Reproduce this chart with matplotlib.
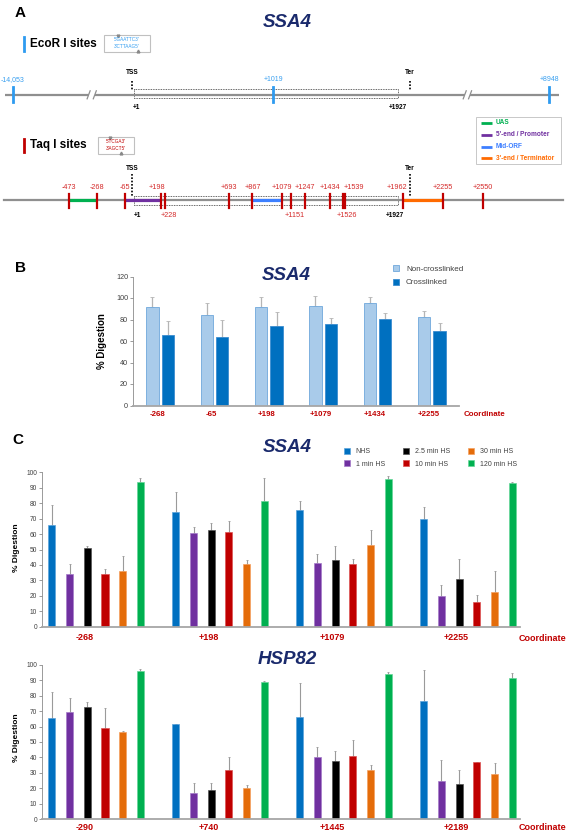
import numpy as np
import matplotlib.pyplot as plt
from matplotlib.patches import Rectangle

plt.rcParams['font.family'] = ['Liberation Sans', 'DejaVu Sans']

# ---------------- data ----------------
# panel A: restriction maps of SSA4 (coordinates relative to +1)
ecor_sites = [-14053, 1019, 8948]
ecor_labels = ['-14,053', '+1019', '+8948']
taq_sites = [-473, -268, -65, 198, 228, 693, 867, 1079, 1151, 1247, 1434,
             1526, 1539, 1962, 2255, 2550]
taq_below = [228, 1151, 1526]
orf_start, orf_end = 1, 1927
tss_pos, ter_pos = -12, 2014
region_names = ['UAS', "5'-end / Promoter", 'Mid-ORF', "3'-end / Terminator"]
region_start = [-473, -65, 867, 1962]
region_end = [-268, 198, 1079, 2255]

# panel B
b_sites = ['-268', '-65', '+198', '+1079', '+1434', '+2255']
b_noncl = [91.2, 84.5, 91.6, 92.3, 94.9, 82.5]
b_noncl_err = [9.5, 11.1, 9.1, 9.4, 5.8, 5.7]
b_cl = [65.7, 64.0, 73.7, 75.4, 80.5, 69.7]
b_cl_err = [13.1, 15.1, 13.5, 6.1, 5.7, 7.4]

# panel C (rows = sites, columns = heat shock time)
hs_times = ['NHS', '1 min HS', '2.5 min HS', '10 min HS', '30 min HS', '120 min HS']
ssa4_sites = ['-268', '+198', '+1079', '+2255']
ssa4_mean = [[65.7, 33.9, 50.8, 34.3, 35.9, 93.5],
             [74.1, 60.9, 62.9, 61.3, 40.4, 81.6],
             [75.4, 41.0, 43.2, 40.4, 52.7, 95.9],
             [69.8, 20.1, 30.9, 15.8, 22.2, 93.3]]
ssa4_err = [[12.9, 6.5, 1.7, 2.8, 9.7, 2.6],
            [13.4, 3.9, 4.5, 7.4, 3.0, 14.9],
            [6.2, 6.1, 9.3, 3.2, 9.9, 1.5],
            [7.5, 6.7, 12.7, 4.5, 13.7, 0.3]]
hsp82_sites = ['-290', '+740', '+1445', '+2189']
hsp82_mean = [[65.3, 69.6, 72.4, 58.8, 56.7, 95.7],
              [61.6, 17.0, 18.8, 31.9, 20.0, 88.6],
              [66.2, 40.3, 37.5, 40.7, 31.7, 94.0],
              [76.3, 25.0, 22.6, 37.1, 29.1, 91.6]]
hsp82_err = [[17.2, 9.1, 3.2, 13.0, 0.6, 1.7],
             [0.3, 6.3, 4.9, 8.2, 2.0, 1.1],
             [22.2, 6.3, 6.7, 10.6, 3.2, 1.5],
             [20.3, 13.1, 9.1, 0.2, 7.1, 3.0]]

# ---------------- style ----------------
NAVY = '#1a2a6c'
RED = '#C00000'
LRED = '#D42A2A'
EBLUE = '#2E9BF0'
GRAY = '#8f8f8f'
region_colors = ['#00B050', '#7030A0', '#3D7FFF', '#FF6A00']
hs_colors = ['#0070C0', '#7030A0', '#000000', '#C00000', '#E46C0A', '#00B050']
hs_edges = ['#5BA3DB', '#A57BC8', '#555555', '#DD5555', '#F4A060', '#66D69A']

W, H = 567, 833
fig = plt.figure(figsize=(W / 100, H / 100), dpi=100)

# pixel axes for free text / decorations
ax_px = fig.add_axes([0, 0, 1, 1])
ax_px.set_xlim(0, W)
ax_px.set_ylim(H, 0)
ax_px.axis('off')

# gene axes: x in base pairs, y in pixels
px_per_bp = 0.13711
x0_px = 133.6
ax_g = fig.add_axes([0, 0, 1, 1])
ax_g.set_xlim(-x0_px / px_per_bp, (W - x0_px) / px_per_bp)
ax_g.set_ylim(H, 0)
ax_g.axis('off')


def squash(c):
    # broken-axis compression for far-away sites
    if c < -300:
        return -300 + (c + 300) * 0.0423
    if c > 2440:
        return 2440 + (c - 2440) * 0.0907
    return c


def bp(px):
    return px / px_per_bp

# ---------------- panel A ----------------
ax_px.text(20, 13, 'A', fontsize=11, fontweight='bold', ha='center', va='center')
ax_px.text(287, 22, 'SSA4', fontsize=13.5, fontweight='bold', style='italic',
           color=NAVY, ha='center', va='center')

# EcoR I header
ax_px.plot([23.5, 23.5], [37, 51], color=EBLUE, lw=2)
ax_px.text(30, 44, 'EcoR I sites', fontsize=8.5, fontweight='bold', va='center')
ax_px.add_patch(Rectangle((104, 34.5), 46, 17.5, fill=False, ec='#c0c0c0', lw=0.8))
ax_px.text(127, 39.5, "5'GAATTC3'", fontsize=3.3, color=EBLUE, ha='center', va='center')
ax_px.text(127, 46.5, "3'CTTAAG5'", fontsize=3.3, color=EBLUE, ha='center', va='center')
ax_px.plot([117.5], [35.8], marker='v', ms=2, color='#888888')
ax_px.plot([137.8], [50.8], marker='^', ms=2, color='#888888')

# EcoR I line
ye = 94.8
seg_x = [(-935, -328), (-283, 2415), (2454, 3103)]
for a, b in seg_x:
    ax_g.plot([a, b], [ye, ye], color=GRAY, lw=1.6, solid_capstyle='butt')
for xb in [-328, -283, 2415, 2454]:
    ax_g.plot([xb - bp(1.5), xb + bp(1.5)], [ye + 4, ye - 4], color=GRAY, lw=0.9)
ax_g.add_patch(Rectangle((orf_start, 89.2), orf_end - orf_start, 9.2, fill=False,
                         ec='#333333', ls=(0, (1, 1)), lw=0.6))
for s, lab in zip(ecor_sites, ecor_labels):
    xs = squash(s)
    ax_g.plot([xs, xs], [87, 102], color=EBLUE, lw=2)
    ax_g.text(xs, 79.8, lab, fontsize=5, color='#3AA0F0', ha='center', va='center')
for pos, lab in [(tss_pos, 'TSS'), (ter_pos, 'Ter')]:
    ax_g.plot([pos, pos], [80.5, 91], color='black', lw=1.2, ls=(0, (1, 1)))
    ax_g.text(pos, 72.5, lab, fontsize=4.7, fontweight='bold', ha='center', va='center')
ax_g.text(orf_start + bp(3), 107, '+1', fontsize=4.7, fontweight='bold', ha='center', va='center')
ax_g.text(orf_end, 107, '+1927', fontsize=4.7, fontweight='bold', ha='center', va='center')

# Taq I header
ax_px.plot([23.5, 23.5], [139, 151.5], color=RED, lw=2)
ax_px.text(30, 145, 'Taq I sites', fontsize=8.5, fontweight='bold', va='center')
ax_px.add_patch(Rectangle((97.6, 136.5), 36.2, 17, fill=False, ec='#c0c0c0', lw=0.8))
ax_px.text(115.7, 141.5, "5'TCGA3'", fontsize=3.3, color=RED, ha='center', va='center')
ax_px.text(115.7, 148.5, "3'AGCT5'", fontsize=3.3, color=RED, ha='center', va='center')
ax_px.plot([110.3], [137.8], marker='v', ms=2, color='#888888')
ax_px.plot([120.8], [152.5], marker='^', ms=2, color='#888888')

# region legend
ax_px.add_patch(Rectangle((476, 116.5), 85, 47, fc='white', ec='#c8c8c8', lw=0.7))
for i, (name, col) in enumerate(zip(region_names, region_colors)):
    yy = 122.7 + i * 11.9
    ax_px.plot([481, 492], [yy, yy], color=col, lw=2, solid_capstyle='butt')
    ax_px.text(495.5, yy, name, fontsize=4.7, fontweight='bold', color=col, va='center')

# Taq I line
yt = 200.4
ax_g.plot([bp(3.6 - x0_px), bp(563 - x0_px)], [yt, yt], color=GRAY, lw=1.6)
ax_g.add_patch(Rectangle((orf_start, 195.8), orf_end - orf_start, 9.0, fill=False,
                         ec='#333333', ls=(0, (1, 1)), lw=0.6))
for a, b, col in zip(region_start, region_end, region_colors):
    ax_g.plot([a, b], [yt - 0.6, yt - 0.6], color=col, lw=2.3, solid_capstyle='butt')
for pos, lab in [(tss_pos, 'TSS'), (ter_pos, 'Ter')]:
    ax_g.plot([pos, pos], [173.5, 197], color='black', lw=1.2, ls=(0, (1, 1)))
    ax_g.text(pos, 168, lab, fontsize=4.7, fontweight='bold', ha='center', va='center')
nudge_px = {198: -3.5, 228: 4, 1151: 3, 1526: 4, 1539: 9, 1962: -6}
for s in taq_sites:
    ax_g.plot([s, s], [193.5, 207.6], color=RED, lw=1.6)
    lab = ('+%d' % s) if s > 0 else str(s)
    xl = s + bp(nudge_px.get(s, 0))
    yl = 215 if s in taq_below else 187.8
    ax_g.text(xl, yl, lab, fontsize=5.2, color=LRED, ha='center', va='center')
ax_g.text(orf_start + bp(3.5), 215, '+1', fontsize=4.7, fontweight='bold', ha='center', va='center')
ax_g.text(orf_end - bp(3), 215, '+1927', fontsize=4.7, fontweight='bold', ha='center', va='center')


def style_axes(ax, ymax, ystep, tick_fs):
    ax.set_facecolor('none')
    ax.set_ylim(0, ymax)
    ax.set_yticks(np.arange(0, ymax + 1, ystep))
    for sp in ['top', 'right']:
        ax.spines[sp].set_visible(False)
    ax.spines['left'].set_color('#8a8a8a')
    ax.spines['left'].set_linewidth(0.6)
    ax.spines['bottom'].set_color('#a6a6a6')
    ax.spines['bottom'].set_linewidth(1.3)
    ax.tick_params(axis='y', labelsize=tick_fs, colors='#8a8a8a', labelcolor='#404040',
                   length=2, width=0.6, pad=1.5)
    ax.tick_params(axis='x', length=0)

# ---------------- panel B ----------------
ax_px.text(20, 268, 'B', fontsize=11, fontweight='bold', ha='center', va='center')
ax_px.text(286, 276, 'SSA4', fontsize=13.5, fontweight='bold', style='italic',
           color=NAVY, ha='center', va='center')

ax_b = fig.add_axes([133 / W, (H - 405.5) / H, 326 / W, 129 / H])
xb_ = np.arange(len(b_sites))
bars_n = ax_b.bar(xb_ - 0.143, b_noncl, width=0.227, color='#A9CBEA', edgecolor='#6FA8DC',
                  lw=0.6, zorder=2)
bars_c = ax_b.bar(xb_ + 0.143, b_cl, width=0.227, color='#0070C0', edgecolor='#3C8DD0',
                  lw=0.6, zorder=2)
ax_b.errorbar(xb_ - 0.143, b_noncl, yerr=[np.zeros(6), b_noncl_err], fmt='none',
              ecolor='#b5b5b5', elinewidth=0.9, capsize=1.2, capthick=0.6, zorder=1)
ax_b.errorbar(xb_ + 0.143, b_cl, yerr=[np.zeros(6), b_cl_err], fmt='none',
              ecolor='#b5b5b5', elinewidth=0.9, capsize=1.2, capthick=0.6, zorder=1)
style_axes(ax_b, 120, 20, 5.2)
ax_b.set_xlim(-0.5, 5.5)
ax_b.set_xticks(xb_ - 0.05, b_sites, fontsize=5.7, fontweight='bold', color=RED)
ax_b.tick_params(axis='x', pad=4)
ax_b.text(5.97, -8.1, 'Coordinate', fontsize=5.7, fontweight='bold', color=RED,
          ha='center', va='center', clip_on=False)
ax_b.set_ylabel('% Digestion', fontsize=7, fontweight='bold')
ax_b.yaxis.set_label_coords(-0.08, 0.5)
fig.legend([bars_n, bars_c], ['Non-crosslinked', 'Crosslinked'], loc='upper left',
           bbox_to_anchor=(393 / W, 1 - 265 / H), frameon=False, fontsize=5.8,
           handlelength=0.8, handleheight=0.8, handletextpad=0.8, labelspacing=0.7,
           borderpad=0, borderaxespad=0, labelcolor='#404040')

# ---------------- panel C ----------------
ax_px.text(18, 440, 'C', fontsize=11, fontweight='bold', ha='center', va='center')


def hs_panel(ax, sites, mean, err, label_pad):
    mean = np.array(mean)
    err = np.array(err)
    n = len(sites)
    handles = []
    for j, name in enumerate(hs_times):
        x = np.arange(n) * 7 + j
        h = ax.bar(x, mean[:, j], width=0.4, color=hs_colors[j], edgecolor=hs_edges[j],
                   lw=0.5, label=name, zorder=2)
        ax.errorbar(x, mean[:, j], yerr=[np.zeros(n), err[:, j]], fmt='none',
                    ecolor='#9a9a9a', elinewidth=0.8, capsize=1.0, capthick=0.6, zorder=1)
        handles.append(h)
    style_axes(ax, 100, 10, 4.8)
    ax.set_xlim(-0.56, 26.44)
    ax.set_xticks(np.arange(n) * 7 + 1.85, sites, fontsize=6.5, fontweight='bold', color=RED)
    ax.tick_params(axis='x', pad=label_pad)
    ax.set_ylabel('% Digestion', fontsize=6, fontweight='bold', labelpad=0)
    ax.yaxis.set_label_coords(-0.046, 0.51)
    return handles


ax_c1 = fig.add_axes([42 / W, (H - 626.7) / H, 478 / W, 154.4 / H])
handles = hs_panel(ax_c1, ssa4_sites, ssa4_mean, ssa4_err, 4.5)
ax_c1.text(27.7, -7.5, 'Coordinate', fontsize=6.5, fontweight='bold', color=RED,
           ha='center', va='center', clip_on=False)
ax_px.text(287, 447, 'SSA4', fontsize=13.5, fontweight='bold', style='italic',
           color=NAVY, ha='center', va='center')
fig.legend(handles, hs_times, ncol=3, loc='upper left', bbox_to_anchor=(344 / W, 1 - 448 / H),
           frameon=False, fontsize=5, handlelength=0.9, handleheight=0.9, handletextpad=0.8,
           columnspacing=2.6, labelspacing=0.75, borderpad=0, borderaxespad=0,
           labelcolor='#404040')

ax_c2 = fig.add_axes([42 / W, (H - 819.3) / H, 478 / W, 154.6 / H])
hs_panel(ax_c2, hsp82_sites, hsp82_mean, hsp82_err, 2.5)
ax_c2.set_ylabel('% Digestion', fontsize=6, fontweight='bold')
ax_c2.yaxis.set_label_coords(-0.046, 0.53)
ax_c2.text(27.7, -5.2, 'Coordinate', fontsize=6.5, fontweight='bold', color=RED,
           ha='center', va='center', clip_on=False)
ax_px.text(287, 659, 'HSP82', fontsize=13.5, fontweight='bold', style='italic',
           color=NAVY, ha='center', va='center')

fig.savefig('out.png', dpi=100)
